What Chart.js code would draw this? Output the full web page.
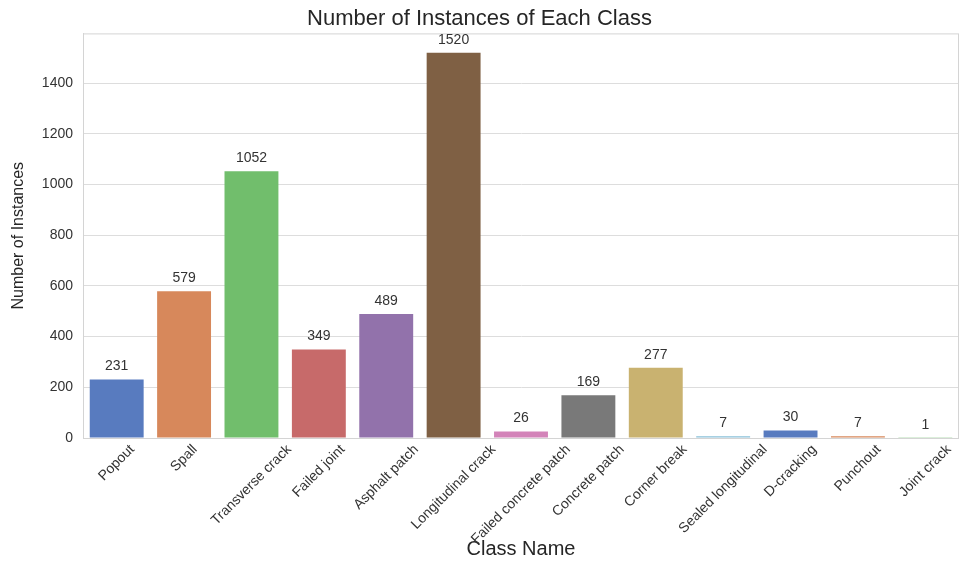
<!DOCTYPE html>
<html>
<head>
<meta charset="utf-8">
<script src="https://cdn.jsdelivr.net/npm/chart.js@4/dist/chart.umd.min.js"></script>
<style>
  html, body { margin: 0; padding: 0; background: #fff; }
  #wrap { width: 959px; height: 561px; }
</style>
</head>
<body>
<div id="wrap"><canvas id="chart"></canvas></div>
<script>
const classNames = [
  "Popout", "Spall", "Transverse crack", "Failed joint", "Asphalt patch",
  "Longitudinal crack", "Failed concrete patch", "Concrete patch", "Corner break",
  "Sealed longitudinal", "D-cracking", "Punchout", "Joint crack"
];
const instanceCounts = [231, 579, 1052, 349, 489, 1520, 26, 169, 277, 7, 30, 7, 1];
const barColors = [
  "#587bbf", "#d7885b", "#71be6c", "#c76a6a", "#9272ab", "#7f6044",
  "#d384b9", "#797979", "#c9b270", "#8ac0d9", "#587bbf", "#d7885b", "#71be6c"
];
const yTicks = [0, 200, 400, 600, 800, 1000, 1200, 1400];

const FONT = '"Liberation Sans", Arial, sans-serif';

// value labels above each bar
const valueLabels = {
  id: "valueLabels",
  afterDatasetsDraw(chart) {
    const ctx = chart.ctx;
    const meta = chart.getDatasetMeta(0);
    ctx.save();
    ctx.font = "14px " + FONT;
    ctx.fillStyle = "#333333";
    ctx.textAlign = "center";
    ctx.textBaseline = "bottom";
    meta.data.forEach((bar, i) => {
      ctx.fillText(String(instanceCounts[i]), bar.x, bar.y - 6);
    });
    ctx.restore();
  }
};

// rotated category labels, centred on the tick like matplotlib ha='center'
const xLabels = {
  id: "xLabels",
  afterDraw(chart) {
    const ctx = chart.ctx;
    const xs = chart.scales.x;
    const top = chart.chartArea.bottom + 5;
    ctx.save();
    ctx.font = "14px " + FONT;
    ctx.fillStyle = "#333333";
    ctx.textAlign = "center";
    ctx.textBaseline = "middle";
    classNames.forEach((lab, i) => {
      const w = ctx.measureText(lab).width;
      const half = (w + 12) * Math.SQRT1_2 / 2;
      ctx.save();
      ctx.translate(xs.getPixelForTick(i), top + half);
      ctx.rotate(-Math.PI / 4);
      ctx.fillText(lab, 0, 0);
      ctx.restore();
    });
    ctx.restore();
  }
};

// light frame around the plot area
const frame = {
  id: "frame",
  beforeDatasetsDraw(chart) {
    const { ctx, chartArea: a } = chart;
    ctx.save();
    ctx.strokeStyle = "#d4d4d4";
    ctx.lineWidth = 1;
    ctx.strokeRect(a.left + 0.5, a.top + 0.5, a.right - a.left - 1, a.bottom - a.top);
    ctx.restore();
  }
};

new Chart(document.getElementById("chart"), {
  type: "bar",
  data: {
    labels: classNames,
    datasets: [{
      label: "Number of Instances",
      data: instanceCounts,
      backgroundColor: barColors,
      borderWidth: 0,
      barPercentage: 0.8,
      categoryPercentage: 1.0
    }]
  },
  options: {
    responsive: true,
    maintainAspectRatio: false,
    animation: false,
    layout: { padding: { left: 0, right: 0, top: 0, bottom: 0 } },
    plugins: {
      legend: { display: false },
      tooltip: { enabled: false },
      title: {
        display: true,
        text: "Number of Instances of Each Class",
        color: "#262626",
        font: { family: FONT, size: 22, weight: "normal" },
        padding: { top: 6, bottom: 1 }
      }
    },
    scales: {
      x: {
        grid: { display: false, drawTicks: false },
        border: { display: true, color: "#d4d4d4" },
        ticks: { display: false },
        title: {
          display: true,
          text: "Class Name",
          color: "#262626",
          font: { family: FONT, size: 20, weight: "normal" },
          padding: { top: 0, bottom: 0 }
        },
        afterFit(scale) { scale.height = 123; }
      },
      y: {
        min: 0,
        max: 1596,
        grid: { color: "#dddddd", drawTicks: false },
        border: { display: true, color: "#d4d4d4" },
        afterBuildTicks(scale) { scale.ticks = yTicks.map(v => ({ value: v })); },
        ticks: {
          color: "#333333",
          font: { family: FONT, size: 14 },
          padding: 10,
          callback: v => String(v)
        },
        title: {
          display: true,
          text: "Number of Instances",
          color: "#262626",
          font: { family: FONT, size: 16, weight: "normal" },
          padding: { top: 9, bottom: 0 }
        },
        afterFit(scale) { scale.width = 83; }
      }
    }
  },
  plugins: [frame, valueLabels, xLabels]
});
</script>
</body>
</html>
